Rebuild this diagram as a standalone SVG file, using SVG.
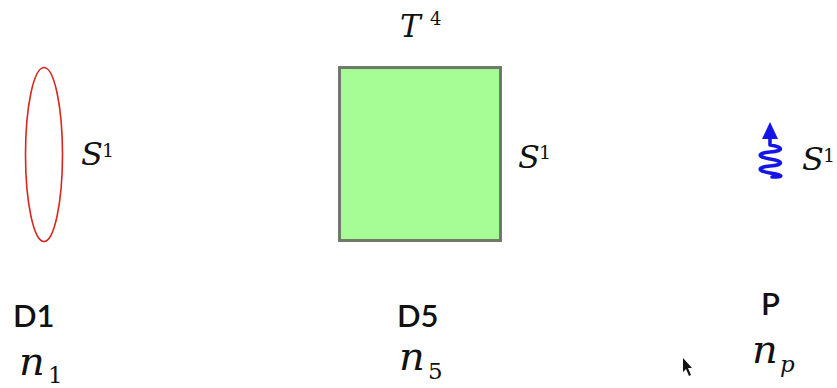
<svg xmlns="http://www.w3.org/2000/svg" width="837" height="388" viewBox="0 0 837 388">
<style>
.m{font-family:'DejaVu Serif',serif;font-style:italic;fill:#111}
.r{font-family:'DejaVu Serif',serif;fill:#111}
.l{font-family:Lato,'Liberation Sans',sans-serif;font-size:31px;font-weight:600;fill:#111}
</style>
<rect width="837" height="388" fill="#fff"/>
<g id="D1">
<ellipse cx="44" cy="154.5" rx="18.5" ry="87" fill="none" stroke="#d8281e" stroke-width="1.6"/>
<text class="m" x="81" y="165" font-size="32">S</text><text class="r" x="102" y="157" font-size="19">1</text>
<text class="l" x="13" y="327">D1</text>
<text class="m" x="19" y="375" font-size="40">n</text><text class="r" x="48" y="383" font-size="23">1</text>
</g>
<g id="D5">
<rect x="339.5" y="67.5" width="161" height="173" fill="#a6fc95" stroke="#6f7a6c" stroke-width="3"/>
<text class="m" x="400" y="37" font-size="31">T</text><text class="r" x="430" y="25" font-size="18">4</text>
<text class="m" x="518" y="168" font-size="32">S</text><text class="r" x="539" y="159" font-size="19">1</text>
<text class="l" x="397" y="327">D5</text>
<text class="m" x="399" y="370" font-size="40">n</text><text class="r" x="428" y="379" font-size="23">5</text>
</g>
<g id="P">
<polygon points="770,122 762,139 778,139" fill="#1515e6"/>
<path d="M770,138 L770,145 C784,147 784,151 770,152 C757,153 757,157 770,159 C784,161 784,165 770,166 C757,167 757,171 770,173 C784,175 784,177 772,177" fill="none" stroke="#1515e6" stroke-width="3.6" stroke-linecap="round" stroke-linejoin="round"/>
<text class="m" x="802" y="170" font-size="32">S</text><text class="r" x="823" y="162" font-size="19">1</text>
<text class="l" x="761" y="315">P</text>
<text class="m" x="752" y="363" font-size="40">n</text><text class="m" x="780" y="372" font-size="23">p</text>
</g>
<polygon points="683,358 683,372 686,369 689,376 691,375 688,368 692,368" fill="#111"/>
</svg>
